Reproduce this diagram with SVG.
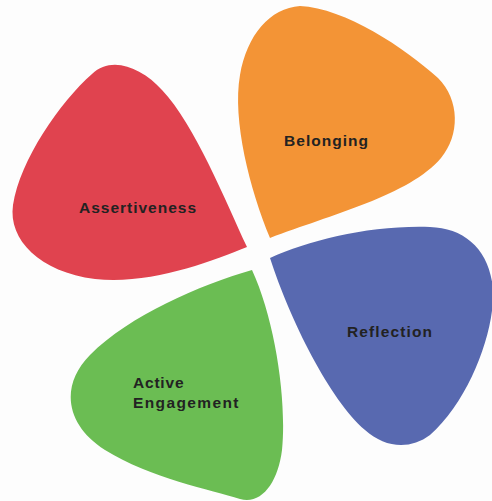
<svg xmlns="http://www.w3.org/2000/svg" width="492" height="501" viewBox="0 0 492 501">
  <style>
    .lbl { font-family: "Liberation Sans", Arial, "DejaVu Sans", sans-serif; font-weight: 700; font-size: 15.5px; fill: #222222; }
  </style>
  <rect x="0" y="0" width="492" height="501" fill="#fdfdfd"/>
  <g id="belonging">
    <path d="M270,238 C 250,190 232,120 240,75 C 247,35 270,8 300,6 C 345,8 405,48 438,78 C 460,100 460,135 441,158 C 410,195 330,215 270,238 Z" fill="#f39436"/>
    <text class="lbl" x="284" y="146" textLength="84" lengthAdjust="spacing">Belonging</text>
  </g>
  <g id="assertiveness">
    <path d="M247,247 C 225,200 195,125 162,90 C 142,68 112,55 92,74 C 60,102 20,160 13,205 C 8,240 40,272 95,279 C 150,285 210,262 247,247 Z" fill="#e0434f"/>
    <text class="lbl" x="79" y="212.5" textLength="117" lengthAdjust="spacing">Assertiveness</text>
  </g>
  <g id="reflection">
    <path d="M270,258 C 310,240 370,225 430,227 C 465,228 490,250 493,290 C 495,330 470,400 430,435 C 410,450 385,448 365,430 C 330,400 290,320 270,258 Z" fill="#5869b0"/>
    <text class="lbl" x="347" y="337" textLength="85" lengthAdjust="spacing">Reflection</text>
  </g>
  <g id="active-engagement">
    <path d="M252,270 C 200,285 130,315 90,355 C 60,385 65,425 105,450 C 150,478 212,490 240,499 C 262,505 278,482 282,450 C 287,400 275,320 252,270 Z" fill="#6bbd53"/>
    <text class="lbl" x="133" y="387.5" textLength="50.5" lengthAdjust="spacing">Active</text>
    <text class="lbl" x="133" y="407.5" textLength="105.5" lengthAdjust="spacing">Engagement</text>
  </g>
</svg>
